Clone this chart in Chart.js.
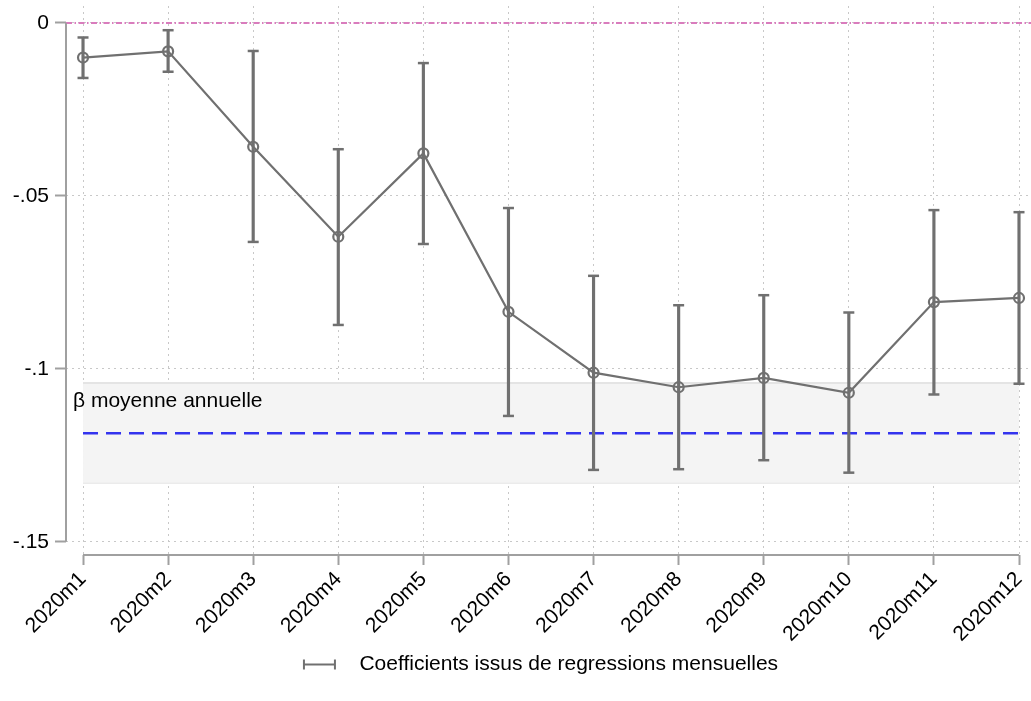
<!DOCTYPE html>
<html>
<head>
<meta charset="utf-8">
<script src="https://cdn.jsdelivr.net/npm/chart.js@4/dist/chart.umd.min.js"></script>
<style>
  html, body { margin: 0; padding: 0; background: #fff; }
  #wrap { width: 1031px; height: 701px; }
</style>
</head>
<body>
<div id="wrap"><canvas id="coefChart" width="1031" height="701"></canvas></div>
<script>
// --- data ---
const months = ['2020m1', '2020m2', '2020m3', '2020m4', '2020m5', '2020m6',
                '2020m7', '2020m8', '2020m9', '2020m10', '2020m11', '2020m12'];
const coefs  = [-0.0100, -0.0082, -0.0358, -0.0618, -0.0377, -0.0835,
                -0.1011, -0.1053, -0.1026, -0.1069, -0.0807, -0.0795];
const ciHigh = [-0.0042, -0.0021, -0.0081, -0.0365, -0.0116, -0.0535,
                -0.0731, -0.0816, -0.0787, -0.0837, -0.0541, -0.0547];
const ciLow  = [-0.0159, -0.0141, -0.0633, -0.0873, -0.0639, -0.1136,
                -0.1292, -0.1290, -0.1264, -0.1300, -0.1074, -0.1043];
const annualMean = -0.1186;
const annualHigh = -0.1041;
const annualLow  = -0.1329;
const yTicks = [0, -0.05, -0.1, -0.15];
const yTickLabels = ['0', '-.05', '-.1', '-.15'];
const legendText = 'Coefficients issus de regressions mensuelles';
const bandText = 'β moyenne annuelle';

const gray = '#707070';
const axisGray = '#a0a0a0';
const FONT = "'Liberation Sans', Arial, sans-serif";

const xs = months.map((m, i) => i + 1);
const first = xs[0], last = xs[xs.length - 1];

// legend symbol: a small horizontal error bar
function legendIcon() {
    const c = document.createElement('canvas');
    c.width = 76; c.height = 14;
    const g = c.getContext('2d');
    g.strokeStyle = gray;
    g.lineWidth = 2;
    g.beginPath();
    g.moveTo(40, 7); g.lineTo(73, 7);
    g.moveTo(41, 2); g.lineTo(41, 12);
    g.moveTo(72, 2); g.lineTo(72, 12);
    g.stroke();
    return c;
}

// axis lines trimmed to the tick range, zero line and band label
const decorations = {
    id: 'decorations',
    beforeDatasetsDraw(chart) {
        const {ctx, chartArea, scales: {y}} = chart;
        ctx.save();
        ctx.strokeStyle = '#d97cbd';
        ctx.lineWidth = 2;
        ctx.setLineDash([6, 2.5, 1.5, 2.5]);
        ctx.beginPath();
        ctx.moveTo(chartArea.left, y.getPixelForValue(0));
        ctx.lineTo(chartArea.right, y.getPixelForValue(0));
        ctx.stroke();
        ctx.restore();
    },
    afterDraw(chart) {
        const {ctx, chartArea, scales: {x, y}} = chart;
        ctx.save();
        ctx.strokeStyle = axisGray;
        ctx.lineWidth = 2;
        ctx.beginPath();
        ctx.moveTo(chartArea.left, y.getPixelForValue(yTicks[0]));
        ctx.lineTo(chartArea.left, y.getPixelForValue(yTicks[yTicks.length - 1]));
        ctx.moveTo(x.getPixelForValue(first), chartArea.bottom);
        ctx.lineTo(x.getPixelForValue(last), chartArea.bottom);
        ctx.stroke();

        ctx.fillStyle = '#000';
        ctx.font = '21px ' + FONT;
        ctx.textBaseline = 'middle';
        ctx.textAlign = 'left';
        ctx.fillText(bandText, chartArea.left + 7, y.getPixelForValue(annualHigh) + 18);
        ctx.restore();
    }
};

function noPadding(scale) {
    scale.paddingTop = 0;
    scale.paddingBottom = 0;
    scale.paddingLeft = 0;
    scale.paddingRight = 0;
}

new Chart(document.getElementById('coefChart'), {
    type: 'line',
    data: {
        datasets: [
            {
                label: legendText,
                data: xs.map((x, i) => ({x: x, y: coefs[i]})),
                borderColor: gray,
                borderWidth: 2.2,
                pointRadius: 5,
                pointBorderWidth: 2.2,
                pointBorderColor: gray,
                pointBackgroundColor: 'rgba(0,0,0,0)',
                tension: 0
            },
            {
                label: 'ci',
                type: 'bar',
                data: xs.map((x, i) => ({x: x, y: [ciLow[i], ciHigh[i]]})),
                backgroundColor: gray,
                barThickness: 2.5,
                borderWidth: 0
            },
            {
                label: 'capHigh',
                data: xs.map((x, i) => ({x: x, y: ciHigh[i]})),
                showLine: false,
                pointStyle: 'line',
                pointRadius: 5.5,
                pointBorderWidth: 2.5,
                pointBorderColor: gray
            },
            {
                label: 'capLow',
                data: xs.map((x, i) => ({x: x, y: ciLow[i]})),
                showLine: false,
                pointStyle: 'line',
                pointRadius: 5.5,
                pointBorderWidth: 2.5,
                pointBorderColor: gray
            },
            {
                label: 'mean',
                data: [{x: first, y: annualMean}, {x: last, y: annualMean}],
                borderColor: '#3333ee',
                borderWidth: 2.5,
                borderDash: [15, 8],
                pointRadius: 0
            },
            {
                label: 'bandHigh',
                data: [{x: first, y: annualHigh}, {x: last, y: annualHigh}],
                borderColor: '#e4e4e4',
                borderWidth: 2,
                backgroundColor: '#f4f4f4',
                pointRadius: 0,
                fill: '+1'
            },
            {
                label: 'bandLow',
                data: [{x: first, y: annualLow}, {x: last, y: annualLow}],
                borderColor: '#e4e4e4',
                borderWidth: 2,
                pointRadius: 0
            }
        ]
    },
    options: {
        responsive: false,
        animation: false,
        layout: { autoPadding: false, padding: { top: 6, right: 0, bottom: 16, left: 0 } },
        plugins: {
            tooltip: { enabled: false },
            legend: {
                position: 'bottom',
                labels: {
                    usePointStyle: true,
                    pointStyleWidth: 96,
                    boxHeight: 14,
                    padding: 10,
                    color: '#000',
                    font: { size: 21, family: FONT },
                    generateLabels: function(chart) {
                        return [{
                            text: legendText,
                            pointStyle: legendIcon(),
                            datasetIndex: 0,
                            fillStyle: 'rgba(0,0,0,0)',
                            strokeStyle: 'rgba(0,0,0,0)',
                            lineWidth: 0,
                            hidden: false
                        }];
                    }
                }
            }
        },
        scales: {
            x: {
                type: 'linear',
                min: 0.8,
                max: 12.141,
                offset: false,
                afterBuildTicks: scale => { scale.ticks = xs.map(v => ({value: v})); },
                afterFit: scale => { scale.height = 89; noPadding(scale); },
                border: { display: false, dash: [2, 4] },
                grid: {
                    offset: false,
                    color: '#c8c8c8',
                    lineWidth: 1,
                    tickLength: 10,
                    tickColor: axisGray,
                    tickWidth: 2
                },
                ticks: {
                    autoSkip: false,
                    minRotation: 45,
                    maxRotation: 45,
                    padding: 2,
                    color: '#000',
                    font: { size: 21, family: FONT },
                    callback: value => months[value - 1]
                }
            },
            y: {
                type: 'linear',
                min: -0.1538,
                max: 0.0049,
                afterBuildTicks: scale => { scale.ticks = yTicks.map(v => ({value: v})); },
                afterFit: scale => { scale.width = 66; noPadding(scale); },
                border: { display: false, dash: [2, 4] },
                grid: {
                    color: '#c8c8c8',
                    lineWidth: 1,
                    tickLength: 11,
                    tickColor: axisGray,
                    tickWidth: 2
                },
                ticks: {
                    padding: 6,
                    color: '#000',
                    font: { size: 21, family: FONT },
                    callback: (value, index) => yTickLabels[index]
                }
            }
        }
    },
    plugins: [decorations]
});
</script>
</body>
</html>
